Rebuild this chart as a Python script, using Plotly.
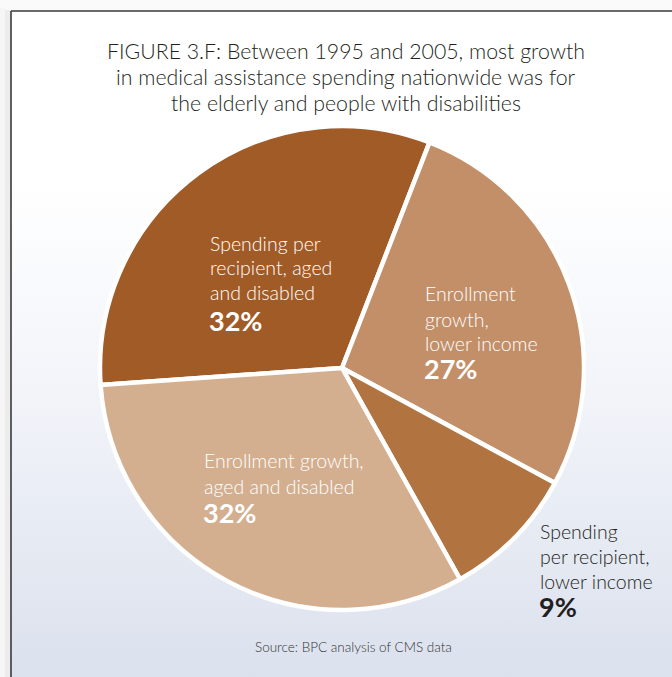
import plotly.graph_objects as go

# Data
categories = [
    "Spending per recipient, aged and disabled",
    "Enrollment growth, lower income",
    "Spending per recipient, lower income",
    "Enrollment growth, aged and disabled",
]
values = [32, 27, 9, 32]
colors = ["#a15b27", "#c28f69", "#b1733f", "#d3af90"]
label_lines = [
    ["Spending per", "recipient, aged", "and disabled"],
    ["Enrollment", "growth,", "lower income"],
    ["Spending", "per recipient,", "lower income"],
    ["Enrollment growth,", "aged and disabled"],
]
pct_labels = ["32%", "27%", "9%", "32%"]

title_lines = ["FIGURE 3.F: Between 1995 and 2005, most growth",
               "in medical assistance spending nationwide was for",
               "the elderly and people with disabilities"]
source_text = "Source: BPC analysis of CMS data"

W, H = 672, 677
FONT = "Lato"

def px(x):
    return x / W

def py(y):
    return 1 - y / H

fig = go.Figure()

# background gradient panel inside frame
fig.add_trace(go.Scatter(
    x=[0, 1, 1, 0, 0], y=[0, 0, 1, 1, 0],
    mode="lines", line=dict(width=0),
    fill="toself",
    fillgradient=dict(type="vertical",
                      colorscale=[[0, "#dbe1ed"], [0.45, "#f3f5fa"], [0.75, "#ffffff"], [1, "#ffffff"]]),
    hoverinfo="skip", showlegend=False,
))

cx, cy, r = 342, 368, 242
fig.add_trace(go.Pie(
    labels=categories, values=values,
    marker=dict(colors=colors, line=dict(color="white", width=4.5)),
    sort=False, direction="clockwise", rotation=-94,
    textinfo="none", hoverinfo="skip", showlegend=False,
    domain=dict(x=[px(cx - r), px(cx + r)], y=[py(cy + r), py(cy - r)]),
))

annotations = []

def add_text(text, x, y, size, color, anchor="left", weight=300):
    annotations.append(dict(
        text=text, x=px(x), y=py(y), xref="paper", yref="paper",
        xanchor=anchor, yanchor="middle", showarrow=False, align=anchor,
        font=dict(family=FONT, size=size, color=color, weight=weight),
    ))

# title
for line, ty in zip(title_lines, [51, 77, 103]):
    add_text(line, 346, ty, 21.3, "#231f20", anchor="center")

# slice labels
label_pos = [
    (208, [243, 268, 292], 320, "white"),
    (423, [294, 319, 343], 368, "white"),
    (538, [531, 556, 581], 606, "#231f20"),
    (202, [460, 486], 512, "white"),
]
for lines, pct, (lx, lys, pyy, col) in zip(label_lines, pct_labels, label_pos):
    for line, ly in zip(lines, lys):
        add_text(line, lx, ly, 19.5, col)
    add_text("<b>" + pct + "</b>", lx - 1, pyy, 27, col, weight=700)

add_text(source_text, 353, 647, 13.5, "#333333", anchor="center")

shapes = [
    # soft shadow left of the frame
    dict(type="rect", xref="paper", yref="paper", x0=0, x1=px(5), y0=0, y1=py(8),
         fillcolor="#f6f6f6", line=dict(width=0), layer="below"),
    dict(type="rect", xref="paper", yref="paper", x0=px(5), x1=px(11), y0=0, y1=py(10),
         fillcolor="#ececec", line=dict(width=0), layer="below"),
    dict(type="line", xref="paper", yref="paper", x0=px(11), x1=px(11), y0=0, y1=py(11),
         line=dict(color="#3a3a3a", width=1.6)),
    dict(type="line", xref="paper", yref="paper", x0=px(11), x1=1, y0=py(11), y1=py(11),
         line=dict(color="#3a3a3a", width=1.6)),
]

fig.update_layout(
    width=W, height=H,
    margin=dict(l=0, r=0, t=0, b=0),
    paper_bgcolor="#fafafa",
    plot_bgcolor="rgba(0,0,0,0)",
    xaxis=dict(domain=[px(11), 1], range=[0, 1], visible=False, fixedrange=True),
    yaxis=dict(domain=[0, py(11)], range=[0, 1], visible=False, fixedrange=True),
    annotations=annotations,
    shapes=shapes,
    showlegend=False,
)

fig.write_html("out.html",
               config={"displayModeBar": False, "staticPlot": True},
               post_script="document.body.style.margin='0px'; document.body.style.overflow='hidden';")
